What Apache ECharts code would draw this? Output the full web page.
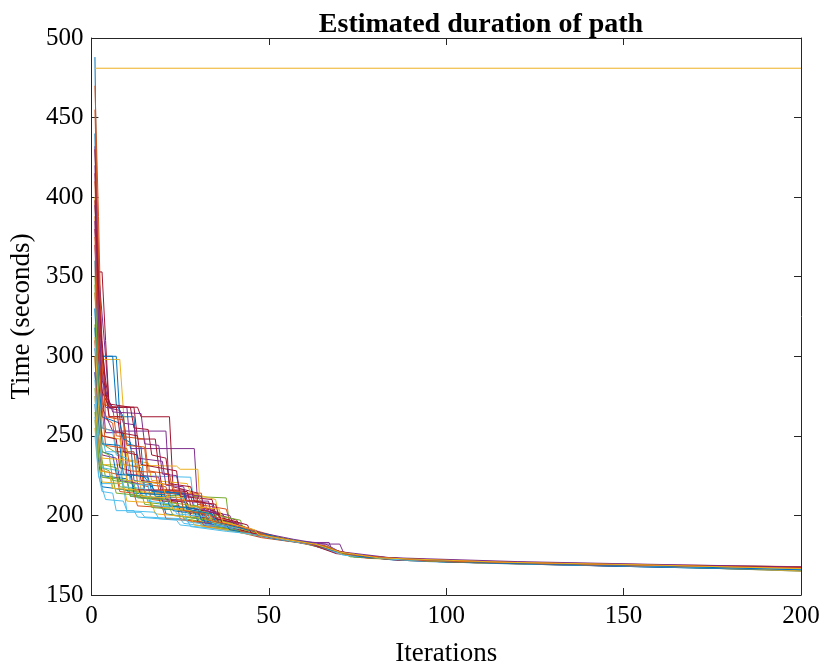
<!DOCTYPE html>
<html>
<head>
<meta charset="utf-8">
<script src="https://cdn.jsdelivr.net/npm/echarts@6/dist/echarts.min.js"></script>
<style>
html,body{margin:0;padding:0;background:#fff;}
#chart{width:826px;height:672px;}
</style>
</head>
<body>
<div id="chart"></div>
<script>
// ---- data: each run is a list of [iteration, time (s)] vertices ----
const titleText = "Estimated duration of path";
const xLabel = "Iterations";
const yLabel = "Time (seconds)";
const xTicks = [0, 50, 100, 150, 200];
const yTicks = [150, 200, 250, 300, 350, 400, 450, 500];

const run01 = [[1,488],[2,300],[7,300],[8,262],[12,262],[13,230],[18,215],[25,213],[26,203],[33,200],[34,194],[45,189],[55,184],[62,182],[70,176],[85,172],[110,170],[150,168],[200,165.5]];
const run02 = [[1,470],[2,388],[3,290],[5,262],[9,262],[10,222],[16,218],[17,210],[24,208],[25,198],[35,193],[48,186],[58,183],[65,180],[72,175],[90,171.5],[130,169],[170,167.5],[200,166.5]];
const run03 = [[1,481],[200,481]];
const run04 = [[1,432],[2,353],[4,300],[5,268],[10,268],[11,242],[29,242],[30,205],[36,200],[37,193],[47,187],[56,184],[63,181.5],[71,175.5],[88,172],[120,170],[160,168.5],[200,166]];
const run05 = [[1,350],[2,290],[3,245],[8,238],[9,216],[18,213],[28,212],[38,211],[39,193],[46,188],[54,185],[62,182],[69,177],[80,173],[105,171],[140,169],[180,167],[200,167]];
const run06 = [[1,330],[2,260],[4,240],[12,240],[13,225],[28,224],[29,205],[34,201],[35,192],[45,188],[55,184.5],[64,181],[70,176],[82,173],[110,170.5],[150,168],[200,166]];
const run07 = [[1,415],[2,353],[3,353],[4,310],[5,268],[13,268],[14,262],[22,262],[23,218],[30,214],[31,205],[37,201],[38,195],[46,188],[56,184],[64,181],[72,175],[90,172],[125,169.5],[165,168],[200,167]];
const run08 = [[1,290],[2,250],[3,225],[10,223],[11,212],[20,210],[21,201],[30,198],[31,194],[42,190],[52,185],[60,183],[67,179],[74,174],[95,171],[135,169],[175,167],[200,165.5]];
const run09 = [[1,388],[2,300],[3,262],[6,258],[7,240],[12,240],[13,220],[21,218],[22,210],[31,209],[32,199],[40,194],[48,188],[57,184],[66,180],[73,175],[100,171],[140,169],[185,167],[200,166.8]];
const run10 = [[1,400],[2,298],[8,298],[10,235],[16,233],[17,222],[27,220],[28,214],[35,210],[36,199],[44,190],[53,186],[61,182],[68,178],[78,173],[115,170],[155,168.5],[200,165.5]];
const run11 = [[1,340],[2,305],[3,280],[4,252],[9,252],[10,226],[19,224],[20,209],[33,209],[34,199],[39,195],[47,188],[57,184],[63,183],[66,182],[71,176],[92,171.5],[135,169.5],[175,168],[200,167]];
const run12 = [[1,320],[2,270],[3,232],[7,230],[8,218],[15,216],[16,208],[25,206],[26,198],[37,194],[49,187],[58,184],[65,180],[72,175],[98,171],[140,169],[180,167.5],[200,166.5]];
const run13 = [[1,275],[2,240],[3,220],[9,220],[10,202],[14,202],[15,199],[25,198],[26,195],[40,191],[50,186],[60,182.5],[67,178],[75,174],[100,171],[145,168.5],[185,167],[200,166]];
const run14 = [[1,380],[2,330],[3,300],[4,275],[6,268],[12,268],[13,248],[18,248],[19,230],[24,228],[25,212],[34,210],[35,201],[41,197],[42,192],[50,187],[60,183],[68,178],[76,173.5],[105,170.5],[150,168],[200,166.5]];
const run15 = [[1,440],[2,312],[3,300],[6,300],[7,270],[9,262],[10,245],[14,243],[15,216],[22,215],[23,203],[32,200],[33,195],[43,190],[52,185.5],[61,182],[69,177],[80,173],[110,170.5],[160,168],[200,165]];
const run16 = [[1,360],[2,280],[3,255],[8,252],[9,232],[14,230],[15,214],[31,214],[32,196],[41,192],[50,187],[59,183],[66,180],[72,175],[95,171.5],[140,169],[190,167],[200,166.7]];
const run17 = [[1,260],[2,232],[24,231],[25,229],[30,229],[31,193],[40,190],[51,186],[60,182.5],[67,178.5],[75,174.5],[110,170],[150,168.5],[200,165]];
const run18 = [[1,395],[2,340],[3,268],[5,258],[6,253],[21,253],[22,215],[28,212],[29,204],[33,203],[34,197],[44,190],[54,185],[62,182],[70,176.5],[85,172.5],[120,170],[165,168],[200,166.3]];
const run19 = [[1,300],[2,250],[3,230],[5,228],[6,217],[14,215],[15,207],[22,205],[23,200],[36,196],[37,192],[47,188],[56,184],[63,182],[70,176],[88,172],[130,169.5],[175,167.8],[200,167.2]];
const run20 = [[1,250],[2,226],[3,215],[6,214],[7,203],[12,203],[13,199],[24,197],[25,194],[38,191],[48,187],[57,184],[64,181],[71,175.5],[90,171.5],[130,169],[170,167.5],[200,166]];
const run21 = [[1,430],[2,353],[3,310],[4,280],[5,262],[8,262],[9,240],[13,238],[14,222],[20,220],[21,210],[27,208],[28,200],[36,197],[37,193],[48,188],[58,183.5],[65,181],[72,175],[100,171],[145,169],[185,167.3],[200,167.4]];
const run22 = [[1,270],[2,235],[3,218],[10,216],[11,213],[19,211],[20,204],[29,203],[30,196],[39,193],[49,187.5],[59,183],[66,180],[74,174],[98,171],[150,168],[200,165.5]];
const run23 = [[1,410],[2,330],[3,270],[6,268],[7,250],[15,248],[16,228],[22,226],[23,215],[29,213],[30,207],[38,204],[39,196],[47,190],[55,185],[63,182],[69,177],[78,173.5],[120,170],[160,168],[200,166.2]];
const run24 = [[1,340],[2,275],[3,250],[8,248],[9,235],[13,233],[14,215],[19,214],[20,205],[28,204],[29,199],[41,194],[42,189],[51,187],[60,183],[67,179],[75,174],[105,171],[150,168.7],[200,166]];
const run25 = [[1,290],[2,262],[3,238],[7,236],[8,222],[13,220],[14,211],[24,210],[25,203],[31,202],[32,195],[44,190],[54,185],[62,182.5],[69,177],[82,173],[115,170.5],[165,168.5],[200,166.8]];
const run26 = [[1,280],[2,245],[4,224],[10,222],[11,212],[20,211],[21,206],[29,205],[30,200],[40,195],[41,190],[50,186.5],[59,183],[66,179.5],[73,174.5],[100,171],[145,169],[200,167]];
const run27 = [[1,360],[2,290],[3,255],[6,253],[7,238],[10,236],[11,220],[16,219],[17,206],[26,205],[27,196],[37,193],[46,189],[55,185],[63,181.5],[70,176.5],[85,172.5],[125,170],[170,168],[200,166.5]];
const run28 = [[1,310],[2,268],[3,250],[7,248],[8,230],[11,228],[12,216],[26,216],[27,205],[36,201],[37,194],[45,189],[54,185],[61,182.5],[69,176],[86,172],[130,169.5],[180,167.6],[200,167]];
const run29 = [[1,330],[2,285],[3,262],[8,258],[9,248],[11,246],[12,222],[17,220],[18,212],[26,211],[27,203],[35,200],[36,195],[46,189],[55,185],[63,182],[71,176],[90,172],[135,169.5],[180,168],[200,165.3]];
const run30 = [[1,300],[2,248],[3,228],[7,226],[8,215],[12,214],[13,206],[20,205],[21,198],[31,196],[32,193],[43,190],[52,186],[61,182],[68,178],[76,174],[110,170.5],[160,168],[200,166.5]];
const run31 = [[1,275],[2,240],[3,221],[9,220],[10,209],[17,208],[18,201],[28,199],[29,194],[39,191],[49,187],[58,184],[66,180],[72,175],[95,171.5],[140,169],[190,167],[200,165.8]];
const run32 = [[1,420],[2,322],[3,290],[4,268],[8,266],[9,258],[12,257],[13,236],[20,234],[21,219],[26,218],[27,209],[34,207],[35,198],[42,195],[43,190],[52,186],[61,183],[67,183],[68,177],[80,173],[115,170.5],[155,168.7],[200,166.4]];
const run33 = [[1,265],[2,238],[3,224],[6,223],[7,214],[16,212],[17,205],[27,203],[28,199],[34,197],[35,193],[45,189],[55,185],[64,181],[71,176],[87,172.5],[130,170],[175,168],[200,167.4]];
const run34 = [[1,285],[2,252],[3,230],[8,228],[9,218],[15,217],[16,209],[23,207],[24,201],[33,199],[34,195],[43,191],[52,186],[60,183],[67,179],[74,174.5],[105,170.8],[150,168.4],[200,166]];
const run35 = [[1,370],[2,300],[3,278],[5,268],[7,268],[8,252],[13,250],[14,232],[19,230],[20,216],[27,215],[28,206],[34,204],[35,198],[41,195],[42,191],[51,186],[60,183],[68,178],[75,174],[100,171],[150,168.5],[200,167.5]];
const run36 = [[1,318],[2,262],[3,240],[6,238],[7,226],[11,225],[12,214],[21,213],[22,206],[30,204],[31,197],[38,194],[39,191],[49,187],[58,183.5],[65,181],[72,175.5],[92,172],[135,169.8],[175,168.2],[200,167.8]];
const run37 = [[1,455],[2,365],[3,296],[4,262],[9,260],[10,244],[15,243],[16,221],[23,219],[24,210],[32,208],[33,200],[41,196],[42,190],[51,186],[59,183],[66,181],[71,176],[86,172.8],[125,170.3],[165,168.8],[200,167.8]];
const run38 = [[1,255],[2,228],[5,227],[6,217],[13,216],[14,212],[22,211],[23,204],[33,202],[34,196],[40,193],[47,188.5],[57,184],[64,181.5],[70,176],[83,173],[118,170.8],[160,169],[200,165.2]];
const run39 = [[1,385],[2,310],[3,285],[5,272],[6,265],[14,264],[15,245],[19,244],[20,226],[24,225],[25,214],[31,212],[32,203],[39,200],[40,195],[48,189],[57,185],[65,182],[70,182],[71,177],[84,173.5],[120,171],[160,169.2],[200,167.6]];
const run40 = [[1,345],[2,278],[3,240],[5,238],[6,222],[12,220],[13,211],[21,210],[22,208],[30,206],[31,202],[42,197],[43,191],[51,187],[60,183],[67,180],[73,174],[96,171.2],[140,169.4],[200,166.9]];
const run41 = [[1,262],[2,225],[4,210],[9,209],[10,203],[18,202],[19,198],[27,197],[28,193],[38,190],[47,188],[56,184],[64,181],[71,175],[88,172],[130,169.8],[175,167.5],[200,166.2]];
const run42 = [[1,398],[2,342],[3,305],[4,285],[5,270],[11,268],[12,255],[16,254],[17,238],[21,236],[22,220],[28,218],[29,209],[35,207],[36,199],[44,194],[45,189],[53,186],[62,182],[69,178],[77,174],[108,171],[155,168.8],[200,167.3]];
const run43 = [[1,305],[2,270],[3,245],[8,244],[9,226],[16,224],[17,215],[26,214],[27,204],[34,201],[35,196],[44,191],[53,186],[62,182.5],[68,178],[76,174],[112,170.2],[158,168.3],[200,165.8]];
const run44 = [[1,375],[2,305],[3,268],[4,244],[10,242],[11,228],[18,227],[19,216],[25,215],[26,203],[32,201],[33,197],[42,193],[50,187],[59,183.5],[66,180.5],[72,175.5],[94,171.6],[138,169.4],[182,167.6],[200,167]];
const run45 = [[1,312],[2,268],[3,236],[9,235],[10,222],[20,220],[21,212],[26,211],[27,206],[36,204],[37,196],[46,191],[47,188],[56,184.5],[63,182],[70,177],[81,173.3],[116,170.6],[158,168.8],[200,166.6]];

const runs = [run01,run02,run03,run04,run05,run06,run07,run08,run09,run10,run11,run12,run13,run14,run15,run16,run17,run18,run19,run20,run21,run22,run23,run24,run25,run26,run27,run28,run29,run30,run31,run32,run33,run34,run35,run36,run37,run38,run39,run40,run41,run42,run43,run44,run45];
const palette = ['#0072BD','#D95319','#EDB120','#7E2F8E','#77AC30','#4DBEEE','#A2142F'];

// ---- chart ----
const FONT = '"Liberation Serif", "DejaVu Serif", serif';
const axisColor = '#262626';
const chart = echarts.init(document.getElementById('chart'), null, {renderer: 'canvas'});

function baseX(pos, showLabels) {
  return {
    type: 'value', min: xTicks[0], max: xTicks[xTicks.length-1], interval: 50, position: pos,
    axisLine: {show: true, onZero: false, lineStyle: {color: axisColor, width: 1}},
    axisTick: {show: true, inside: true, length: 7, lineStyle: {color: axisColor}},
    axisLabel: {show: showLabels, color: '#000', fontFamily: FONT, fontSize: 25, margin: 9},
    splitLine: {show: false}
  };
}
function baseY(pos, showLabels) {
  return {
    type: 'value', min: yTicks[0], max: yTicks[yTicks.length-1], interval: 50, position: pos,
    axisLine: {show: true, onZero: false, lineStyle: {color: axisColor, width: 1}},
    axisTick: {show: true, inside: true, length: 7, lineStyle: {color: axisColor}},
    axisLabel: {show: showLabels, color: '#000', fontFamily: FONT, fontSize: 25, margin: 8},
    splitLine: {show: false}
  };
}

const xMain = baseX('bottom', true);
xMain.name = xLabel; xMain.nameLocation = 'middle'; xMain.nameGap = 45;
xMain.nameTextStyle = {color: '#000', fontFamily: FONT, fontSize: 27};
const yMain = baseY('left', true);
yMain.name = yLabel; yMain.nameLocation = 'middle'; yMain.nameGap = 50;
yMain.nameTextStyle = {color: '#000', fontFamily: FONT, fontSize: 27};

const series = runs.map((r, i) => ({
  type: 'line', data: r, xAxisIndex: 0, yAxisIndex: 0,
  showSymbol: false, symbol: 'none', silent: true, animation: false,
  lineStyle: {color: palette[i % palette.length], width: 1},
  clip: true
}));

chart.setOption({
  backgroundColor: '#fff',
  animation: false,
  title: {
    text: titleText, left: 476, textAlign: 'center', top: 6,
    textStyle: {fontFamily: FONT, fontWeight: 'bold', fontSize: 28, color: '#000'}
  },
  grid: {left: 91, right: 25, top: 38, bottom: 74, containLabel: false},
  xAxis: [xMain, baseX('top', false)],
  yAxis: [yMain, baseY('right', false)],
  series: series
});
</script>
</body>
</html>
